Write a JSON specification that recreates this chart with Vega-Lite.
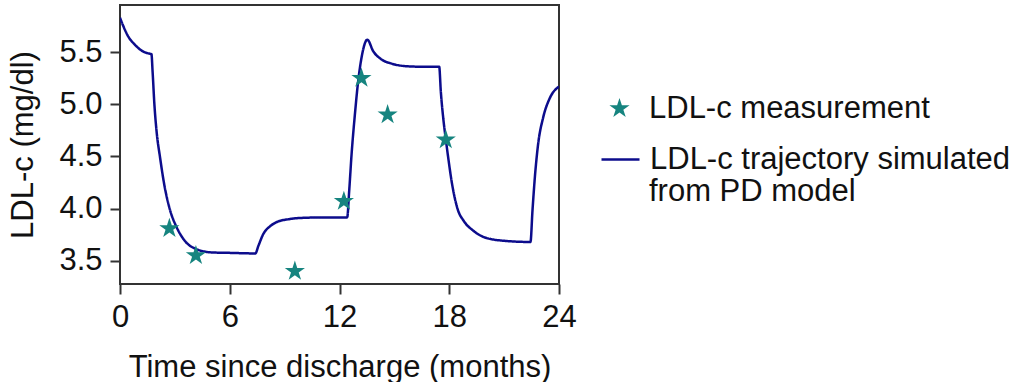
{
  "$schema": "https://vega.github.io/schema/vega-lite/v6.json",
  "width": 439,
  "height": 279,
  "autosize": {"type": "pad"},
  "padding": {"left": 7, "top": 5, "right": 0, "bottom": 0},
  "background": "white",
  "config": {
    "font": "Liberation Sans",
    "view": {"stroke": "#333333", "strokeWidth": 2},
    "axis": {
      "labelFont": "Liberation Sans",
      "titleFont": "Liberation Sans",
      "labelFontSize": 31,
      "titleFontSize": 31,
      "titleFontWeight": "normal",
      "labelColor": "#111111",
      "titleColor": "#111111",
      "grid": false,
      "domain": false,
      "tickColor": "#333333",
      "tickWidth": 2,
      "tickSize": 10,
      "labelPadding": 8,
      "titlePadding": 19
    },
    "axisX": {"titlePadding": 20},
    "legend": {
      "labelFont": "Liberation Sans",
      "labelFontSize": 31,
      "labelColor": "#111111",
      "labelLimit": 600,
      "labelOffset": 9,
      "orient": "none"
    }
  },
  "datasets": {
    "trajectory": [
      {"t": 0, "v": 5.83},
      {"t": 0.18, "v": 5.75},
      {"t": 0.45, "v": 5.65},
      {"t": 0.82, "v": 5.57},
      {"t": 1.18, "v": 5.515},
      {"t": 1.5, "v": 5.49},
      {"t": 1.72, "v": 5.48},
      {"t": 1.78, "v": 5.32},
      {"t": 1.88, "v": 5.0},
      {"t": 2.0, "v": 4.74},
      {"t": 2.19, "v": 4.49},
      {"t": 2.42, "v": 4.23},
      {"t": 2.73, "v": 3.99},
      {"t": 3.1, "v": 3.82},
      {"t": 3.55, "v": 3.69},
      {"t": 4.19, "v": 3.61},
      {"t": 5.01, "v": 3.58},
      {"t": 6.1, "v": 3.575},
      {"t": 7.4, "v": 3.57},
      {"t": 7.56, "v": 3.64},
      {"t": 7.83, "v": 3.755},
      {"t": 8.2, "v": 3.83},
      {"t": 8.56, "v": 3.87},
      {"t": 9.29, "v": 3.9},
      {"t": 9.84, "v": 3.91},
      {"t": 11.0, "v": 3.915},
      {"t": 12.42, "v": 3.915},
      {"t": 12.53, "v": 4.17},
      {"t": 12.66, "v": 4.52},
      {"t": 12.84, "v": 4.9},
      {"t": 13.02, "v": 5.22},
      {"t": 13.24, "v": 5.48},
      {"t": 13.52, "v": 5.62},
      {"t": 13.84, "v": 5.51},
      {"t": 14.3, "v": 5.43},
      {"t": 14.85, "v": 5.39},
      {"t": 15.67, "v": 5.365},
      {"t": 16.57, "v": 5.36},
      {"t": 17.45, "v": 5.36},
      {"t": 17.54, "v": 5.12},
      {"t": 17.67, "v": 4.87},
      {"t": 17.8, "v": 4.68},
      {"t": 17.95, "v": 4.48},
      {"t": 18.15, "v": 4.24},
      {"t": 18.45, "v": 4.0},
      {"t": 18.8, "v": 3.88},
      {"t": 19.3, "v": 3.79},
      {"t": 20.0, "v": 3.72},
      {"t": 21.1, "v": 3.69},
      {"t": 22.44, "v": 3.68},
      {"t": 22.55, "v": 3.98},
      {"t": 22.68, "v": 4.3},
      {"t": 22.86, "v": 4.62},
      {"t": 23.13, "v": 4.87},
      {"t": 23.5, "v": 5.06},
      {"t": 24.0, "v": 5.17}
    ],
    "measurements": [
      {"t": 2.7, "v": 3.81},
      {"t": 4.15, "v": 3.55},
      {"t": 9.56, "v": 3.4},
      {"t": 12.24, "v": 4.07},
      {"t": 13.2, "v": 5.25},
      {"t": 14.63, "v": 4.9},
      {"t": 17.81, "v": 4.66}
    ]
  },
  "encoding": {
    "x": {
      "field": "t",
      "type": "quantitative",
      "scale": {"domain": [0, 24], "nice": false, "zero": false},
      "axis": {"values": [0, 6, 12, 18, 24], "title": "Time since discharge (months)", "labelFlush": false}
    },
    "y": {
      "field": "v",
      "type": "quantitative",
      "scale": {"domain": [3.277, 5.952], "nice": false, "zero": false},
      "axis": {"values": [3.5, 4, 4.5, 5, 5.5], "format": ".1f", "title": "LDL-c (mg/dl)"}
    }
  },
  "layer": [
    {
      "data": {"name": "trajectory"},
      "mark": {"type": "line", "interpolate": "monotone", "strokeWidth": 2.5, "clip": true},
      "encoding": {
        "color": {
          "datum": "LDL-c trajectory simulated",
          "type": "nominal",
          "scale": {"range": ["#0c0c8c"]},
          "legend": {
            "title": null,
            "orient": "none",
            "legendX": 480,
            "legendY": 134,
            "symbolType": "stroke",
            "symbolSize": 1444,
            "symbolStrokeWidth": 2.5
          }
        },
        "strokeDash": {
          "datum": "from PD model",
          "type": "nominal",
          "scale": {"range": [[1, 0]]},
          "legend": {
            "title": null,
            "orient": "none",
            "legendX": 480,
            "legendY": 167,
            "symbolType": "stroke",
            "symbolSize": 1444,
            "symbolStrokeColor": "transparent",
            "symbolOpacity": 0
          }
        }
      }
    },
    {
      "data": {"name": "measurements"},
      "mark": {
        "type": "point",
        "shape": "M0,-1L0.225,-0.309L0.951,-0.309L0.363,0.118L0.588,0.809L0,0.382L-0.588,0.809L-0.363,0.118L-0.951,-0.309L-0.225,-0.309Z",
        "filled": true,
        "color": "#16847f",
        "size": 450,
        "opacity": 1
      },
      "encoding": {
        "shape": {
          "datum": "LDL-c measurement",
          "type": "nominal",
          "scale": {"range": ["M0,-1L0.225,-0.309L0.951,-0.309L0.363,0.118L0.588,0.809L0,0.382L-0.588,0.809L-0.363,0.118L-0.951,-0.309L-0.225,-0.309Z"]},
          "legend": {
            "title": null,
            "orient": "none",
            "legendX": 484,
            "legendY": 88,
            "symbolSize": 450,
            "symbolFillColor": "#16847f",
            "symbolStrokeWidth": 0,
            "symbolOpacity": 1,
            "labelOffset": 14
          }
        }
      }
    }
  ]
}
